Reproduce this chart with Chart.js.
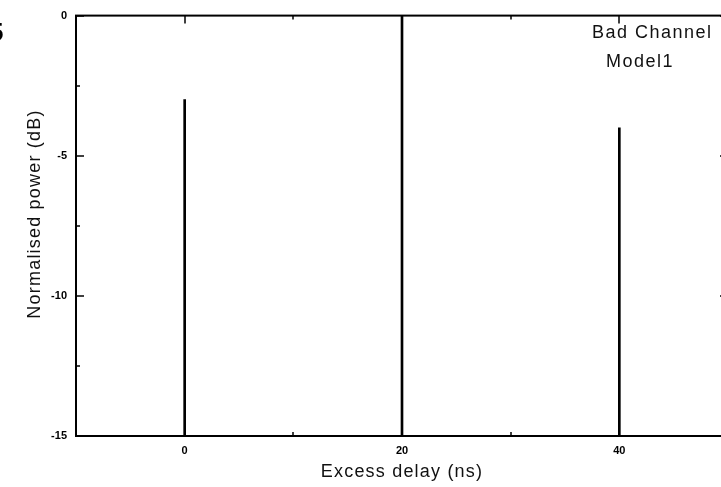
<!DOCTYPE html>
<html>
<head>
<meta charset="utf-8">
<script src="https://cdn.jsdelivr.net/npm/chart.js@4.4.1/dist/chart.umd.min.js"></script>
<style>
    html, body { margin: 0; padding: 0; background: #fff; overflow: hidden; }
    #wrap { position: relative; width: 721px; height: 487px; overflow: hidden; }
    #fig { position: absolute; left: -11px; top: 17px; font: bold 26px "Liberation Sans", Arial, sans-serif; color: #000; }
</style>
</head>
<body>
<div id="wrap">
    <canvas id="chart" width="740" height="487"></canvas>
    <div id="fig">5</div>
</div>
<script>
// data
const delays = [0, 20, 40];          // ns
const powers = [-3, 0, -4];          // dB
const floorDb = -15;
const xTicks = [0, 20, 40];
const xMinor = [10, 30];
const yTicks = [-15, -10, -5, 0];
const yMinor = [-12.5, -7.5, -2.5];
const legendLines = ["Bad Channel", "Model1"];
const xTitle = "Excess delay (ns)";
const yTitle = "Normalised power (dB)";

const FONT = '"Liberation Sans", Arial, sans-serif';

// frame + inward ticks + texts, drawn like the old plotting tool does
const framePlugin = {
    id: "frame",
    afterDatasetsDraw(chart) {
        const ctx = chart.ctx;
        const a = chart.chartArea;
        const xs = chart.scales.x;
        const ys = chart.scales.y;
        ctx.save();
        ctx.strokeStyle = "#000";
        ctx.lineWidth = 2;
        ctx.strokeRect(a.left, a.top, a.right - a.left, a.bottom - a.top);

        function tickX(v, len) {
            const px = Math.round(xs.getPixelForValue(v));
            ctx.beginPath();
            ctx.moveTo(px, a.bottom); ctx.lineTo(px, a.bottom - len);
            ctx.moveTo(px, a.top); ctx.lineTo(px, a.top + len);
            ctx.stroke();
        }
        function tickY(v, len) {
            const py = Math.round(ys.getPixelForValue(v));
            ctx.beginPath();
            ctx.moveTo(a.left, py); ctx.lineTo(a.left + len, py);
            ctx.moveTo(a.right, py); ctx.lineTo(a.right - len, py);
            ctx.stroke();
        }
        ctx.lineWidth = 1.5;
        xTicks.forEach(v => tickX(v, 8));
        xMinor.forEach(v => tickX(v, 4));
        yTicks.forEach(v => tickY(v, 8));
        yMinor.forEach(v => tickY(v, 4));

        ctx.fillStyle = "#111";
        ctx.textBaseline = "middle";
        ctx.letterSpacing = "1.5px";
        ctx.font = "18px " + FONT;
        ctx.fillText(legendLines[0], a.left + 516, 33);
        ctx.fillText(legendLines[1], a.left + 530, 62);

        // axis titles
        ctx.letterSpacing = "1.2px";
        ctx.textAlign = "center";
        ctx.fillText(xTitle, (a.left + a.right) / 2, 472);
        ctx.translate(35, 214);
        ctx.rotate(-Math.PI / 2);
        ctx.fillText(yTitle, 0, 0);
        ctx.restore();
    }
};

const sticks = delays.map((d, i) => ({ x: d, y: [floorDb, powers[i]] }));

new Chart(document.getElementById("chart"), {
    type: "bar",
    data: {
        datasets: [{
            data: sticks,
            backgroundColor: "#000",
            borderWidth: 0,
            barThickness: 2,
        }],
    },
    options: {
        responsive: false,
        animation: false,
        events: [],
        layout: { padding: { top: 14, right: 12, left: 0, bottom: 0 } },
        plugins: { legend: { display: false }, tooltip: { enabled: false } },
        scales: {
            x: {
                type: "linear",
                offset: false,
                min: -10,
                max: 50,
                grid: { display: false, drawTicks: false, offset: false },
                border: { display: false },
                afterBuildTicks: s => { s.ticks = xTicks.map(v => ({ value: v })); },
                afterFit: s => { s.height = 51; },
                ticks: { color: "#000", padding: 8, font: { family: FONT, size: 11, weight: "bold" } },
            },
            y: {
                type: "linear",
                min: -15,
                max: 0,
                grid: { display: false, drawTicks: false },
                border: { display: false },
                afterBuildTicks: s => { s.ticks = yTicks.map(v => ({ value: v })); },
                afterFit: s => { s.width = 76; },
                ticks: { color: "#000", padding: 9, font: { family: FONT, size: 11, weight: "bold" } },
            },
        },
    },
    plugins: [framePlugin],
});
</script>
</body>
</html>
